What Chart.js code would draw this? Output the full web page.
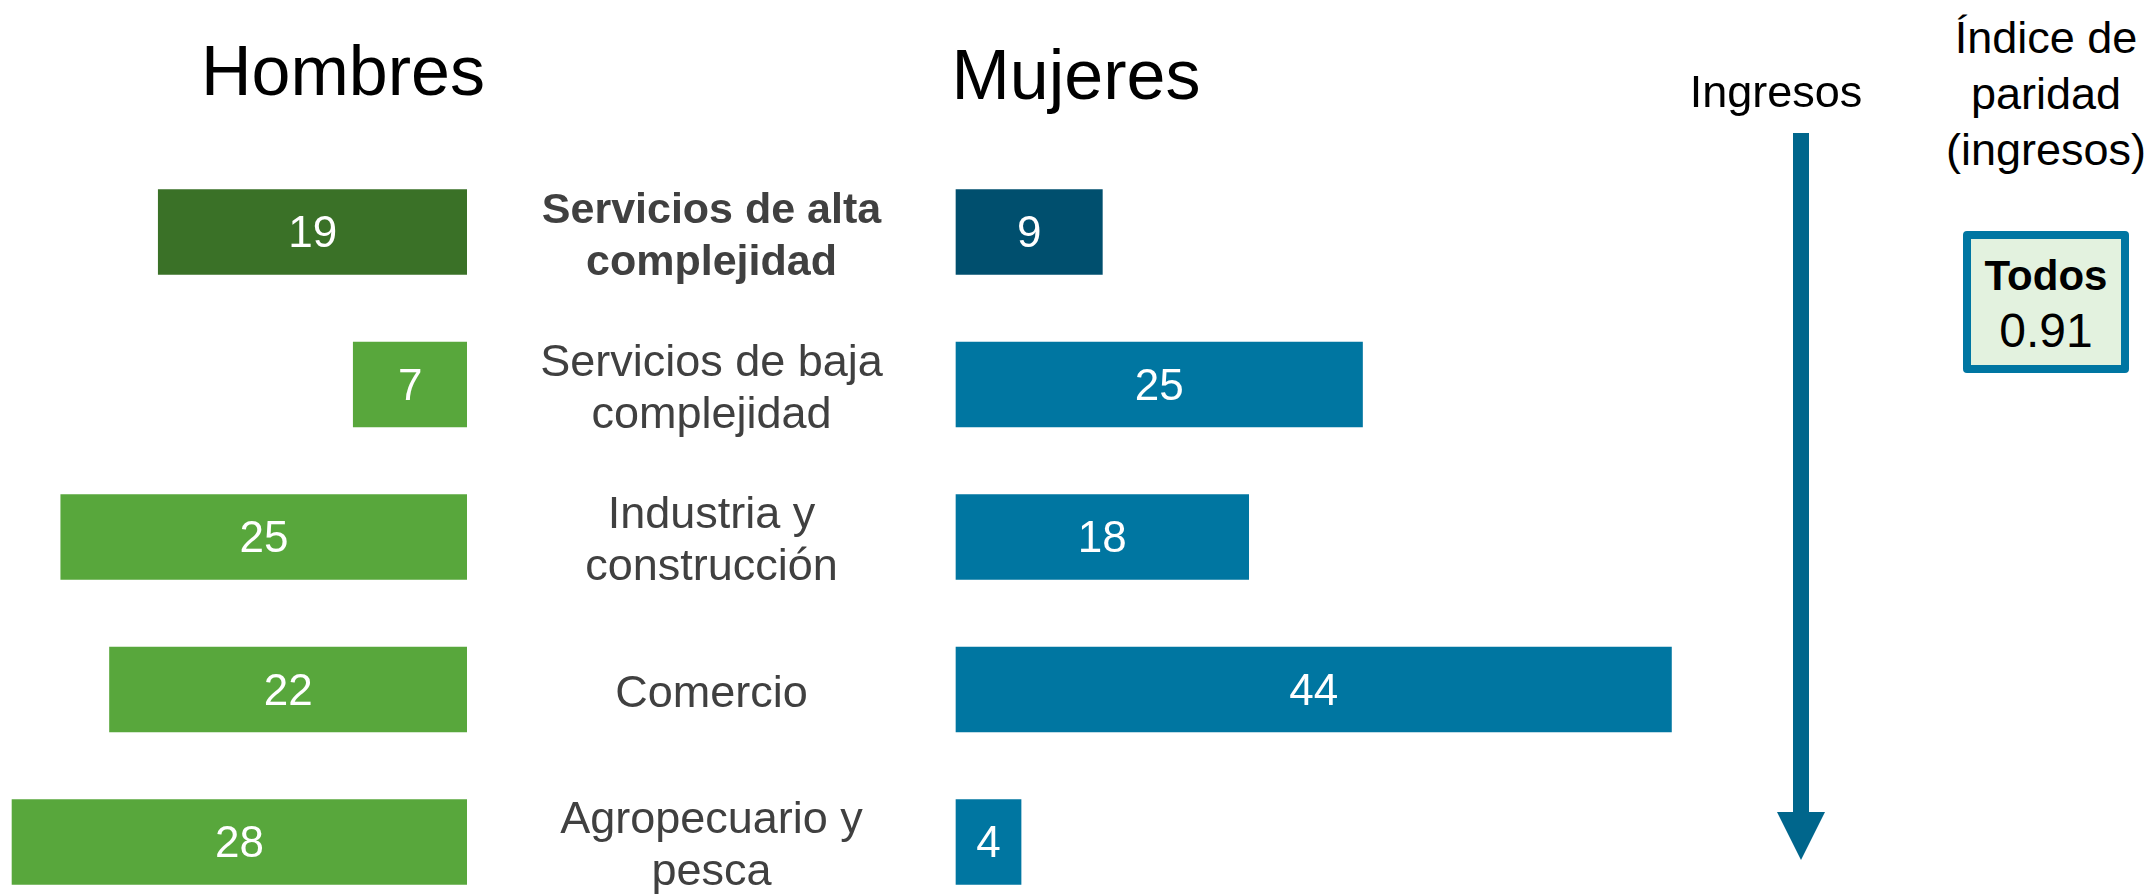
<!DOCTYPE html>
<html lang="es">
<head>
<meta charset="utf-8">
<title>Hombres y Mujeres por sector</title>
<script src="https://cdn.jsdelivr.net/npm/chart.js@4.4.1/dist/chart.umd.min.js"></script>
<style>
  html, body { margin: 0; padding: 0; background: #fff; }
  body { width: 2151px; height: 894px; position: relative; overflow: hidden;
         font-family: "Liberation Sans", Arial, sans-serif; color: #000; }
  canvas { position: absolute; top: 0; }
  #left { left: 0; }
  #right { left: 467px; }
  .txt { position: absolute; white-space: nowrap; transform: translateX(-50%); text-align: center; line-height: 1; }
  #hombresTit { left: 343px; top: 36px; font-size: 70px; }
  #mujeresTit { left: 1076px; top: 40px; font-size: 70px; }
  #ingresos { left: 1776px; top: 69px; font-size: 45px; }
  #indice { left: 2046px; top: 10px; font-size: 45px; line-height: 56px; }
  #box { position: absolute; left: 1963px; top: 231px; width: 166px; height: 142px;
         box-sizing: border-box; border: 8px solid #0076A2; border-radius: 4px; background: #E3F2DF; }
  #todos { left: 2046px; top: 255px; font-size: 42px; font-weight: bold; }
  #valor { left: 2046px; top: 307px; font-size: 48px; }
  svg { position: absolute; left: 0; top: 0; }
</style>
</head>
<body>
<canvas id="left" width="467" height="894"></canvas>
<canvas id="right" width="1302" height="894"></canvas>

<div class="txt" id="hombresTit">Hombres</div>
<div class="txt" id="mujeresTit">Mujeres</div>
<div class="txt" id="ingresos">Ingresos</div>
<div class="txt" id="indice">Índice de<br>paridad<br>(ingresos)</div>
<div id="box"></div>
<div class="txt" id="todos">Todos</div>
<div class="txt" id="valor">0.91</div>

<svg width="2151" height="894">
  <rect x="1793" y="133" width="16" height="680" fill="#00668C"></rect>
  <polygon points="1777,812 1825,812 1801,860" fill="#00668C"></polygon>
</svg>

<script>
(function () {
  'use strict';

  // ── Data ─────────────────────────────────────────────────────────────────
  var categorias = [
    ['Servicios de alta', 'complejidad'],
    ['Servicios de baja', 'complejidad'],
    ['Industria y', 'construcción'],
    ['Comercio'],
    ['Agropecuario y', 'pesca']
  ];
  var hombres = [19, 7, 25, 22, 28];
  var mujeres = [9, 25, 18, 44, 4];

  var hombresColores = ['#3A7127', '#58A73C', '#58A73C', '#58A73C', '#58A73C'];
  var mujeresColores = ['#004F6E', '#0076A1', '#0076A1', '#0076A1', '#0076A1'];

  var FONT = '"Liberation Sans", Arial, sans-serif';

  // white numbers in the middle of each bar
  var barValues = {
    id: 'barValues',
    afterDatasetsDraw: function (chart) {
      var ctx = chart.ctx;
      var ds = chart.data.datasets[0];
      ctx.save();
      ctx.fillStyle = '#fff';
      ctx.font = '44px ' + FONT;
      ctx.textAlign = 'center';
      ctx.textBaseline = 'middle';
      chart.getDatasetMeta(0).data.forEach(function (bar, i) {
        ctx.fillText(String(ds.data[i]), (bar.x + bar.base) / 2, bar.y + 3);
      });
      ctx.restore();
    }
  };

  // category names centred in the gap between both panels
  var catLabels = {
    id: 'catLabels',
    afterDraw: function (chart) {
      var ctx = chart.ctx;
      var y = chart.scales.y;
      var cx = (y.left + y.right) / 2;
      ctx.save();
      ctx.fillStyle = '#404040';
      ctx.textAlign = 'center';
      ctx.textBaseline = 'middle';
      categorias.forEach(function (lines, i) {
        var py = y.getPixelForTick(i) + 5;
        ctx.font = (i === 0 ? 'bold 43px ' : '45px ') + FONT;
        lines.forEach(function (ln, j) {
          ctx.fillText(ln, cx, py + (j - (lines.length - 1) / 2) * 52);
        });
      });
      ctx.restore();
    }
  };

  function baseOptions(xScale, yScale) {
    return {
      indexAxis: 'y',
      responsive: false,
      animation: false,
      layout: { padding: { top: 232, bottom: 52, left: 0, right: 0 } },
      plugins: { legend: { display: false }, tooltip: { enabled: false } },
      scales: { x: xScale, y: yScale }
    };
  }

  new Chart(document.getElementById('left'), {
    type: 'bar',
    data: {
      labels: categorias,
      datasets: [{
        data: hombres,
        backgroundColor: hombresColores,
        barThickness: 85,
        clip: false
      }]
    },
    options: baseOptions(
      { type: 'linear', reverse: true, min: 0, max: 28.74, display: false },
      { type: 'category', offset: false, display: false }
    ),
    plugins: [barValues]
  });

  new Chart(document.getElementById('right'), {
    type: 'bar',
    data: {
      labels: categorias,
      datasets: [{
        data: mujeres,
        backgroundColor: mujeresColores,
        barThickness: 85,
        clip: false
      }]
    },
    options: baseOptions(
      { type: 'linear', min: 0, max: 50, display: false },
      {
        type: 'category',
        offset: false,
        ticks: { display: false },
        grid: { display: false },
        border: { display: false },
        afterFit: function (s) { s.width = 489; }
      }
    ),
    plugins: [barValues, catLabels]
  });

}());
</script>
</body>
</html>
